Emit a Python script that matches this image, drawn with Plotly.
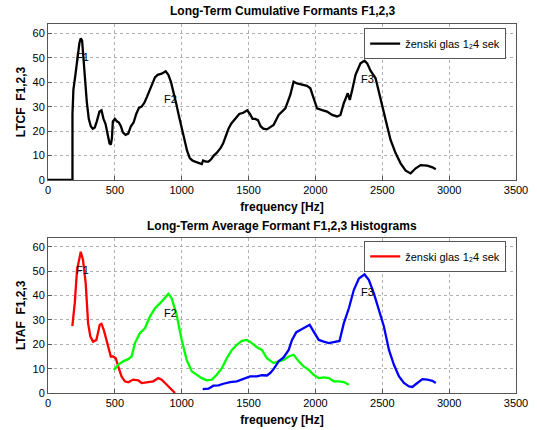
import plotly.graph_objects as go

# ---- data: top (cumulative) ----
ltcf_x = [0, 183, 183, 190, 205, 220, 235, 245, 255, 265, 275, 290, 305, 320, 335, 350, 365, 385, 400, 415, 430, 445, 460, 470, 478, 485, 500, 515, 530, 545, 560, 580, 600, 620, 640, 660, 680, 700, 720, 740, 760, 780, 800, 820, 850, 880, 900, 920, 940, 960, 980, 1000, 1020, 1040, 1060, 1080, 1100, 1130, 1150, 1160, 1180, 1200, 1220, 1240, 1260, 1290, 1310, 1330, 1350, 1370, 1390, 1410, 1430, 1460, 1490, 1510, 1530, 1550, 1570, 1590, 1610, 1637, 1687, 1725, 1775, 1812, 1837, 1862, 1900, 1937, 1962, 1987, 2012, 2050, 2087, 2125, 2162, 2187, 2212, 2242, 2257, 2275, 2300, 2337, 2367, 2387, 2412, 2450, 2487, 2525, 2562, 2600, 2637, 2675, 2712, 2750, 2787, 2837, 2875, 2900]
ltcf_y = [0, 0, 27, 37, 43, 50, 56, 58, 57, 50, 42, 32, 25, 22, 21, 21.5, 24, 28, 28.5, 25, 23, 19, 15, 14.5, 17, 24, 25, 24, 23.5, 22, 19.5, 18.5, 19, 22, 23.5, 27, 29.5, 30, 31.5, 34, 36.5, 39, 42, 43, 43.5, 44.5, 43, 40, 36, 31, 26, 21, 16, 12, 9, 8, 7.5, 7, 6.5, 8, 7.5, 7.5, 8.5, 10, 11, 13, 15, 18, 21, 23, 24.5, 26, 27, 27.5, 28.5, 27, 25, 25, 24.5, 22, 21, 20.7, 22.5, 26.6, 29.3, 34.8, 40.2, 39.5, 38.9, 38.5, 37.5, 33.4, 29.3, 28.6, 28, 26.6, 26, 26.6, 31.4, 35.5, 32.7, 36.8, 43, 47.7, 48.8, 47.7, 44.7, 41.6, 32.7, 24.6, 16.4, 10.9, 6.8, 3.8, 2.7, 4.8, 6.1, 5.9, 5.2, 4.4]

# ---- data: bottom (histograms) ----
f1_x = [182, 200, 217, 232, 245, 262, 282, 300, 317, 337, 362, 387, 400, 417, 437, 457, 470, 487, 507, 525, 550, 575, 600, 637, 675, 700, 737, 787, 825, 850, 875, 900, 925, 950]
f1_y = [27.5, 36.8, 50.5, 55, 58, 54.6, 45, 28.6, 23.2, 21.1, 21.8, 28, 28.4, 25.9, 21.8, 18.4, 15, 15, 14.3, 10.9, 6.8, 4.8, 4.4, 5.5, 5.2, 4.1, 4.4, 4.8, 6.1, 5.5, 4.1, 2.7, 1.6, 0]

f2_x = [492, 525, 562, 600, 625, 650, 687, 725, 762, 800, 837, 875, 900, 925, 962, 1000, 1037, 1075, 1112, 1150, 1187, 1225, 1262, 1300, 1337, 1375, 1412, 1450, 1487, 1525, 1562, 1600, 1637, 1687, 1725, 1762, 1800, 1837, 1875, 1912, 1950, 1987, 2025, 2062, 2100, 2137, 2175, 2212, 2250]
f2_y = [9.5, 11.6, 13, 13.9, 15, 20.5, 24.6, 26.6, 31.4, 34.8, 36.8, 38.9, 40.7, 38.9, 32, 21.8, 13.6, 8.9, 7.5, 6.1, 5.2, 5.5, 7.5, 10.2, 14.3, 17.7, 19.8, 21.4, 21.8, 20.5, 18.8, 17.7, 14.3, 12.3, 13, 13.6, 15, 15.7, 13, 10.9, 9.5, 7.5, 6.1, 6.4, 6.1, 4.8, 4.8, 4.5, 3.4]

f3_x = [1157, 1200, 1237, 1275, 1312, 1362, 1412, 1462, 1512, 1562, 1600, 1637, 1662, 1687, 1725, 1762, 1800, 1825, 1857, 1887, 1925, 1957, 1987, 2025, 2062, 2100, 2137, 2180, 2212, 2250, 2287, 2325, 2367, 2400, 2437, 2475, 2512, 2550, 2587, 2625, 2662, 2700, 2725, 2762, 2800, 2837, 2875, 2900]
f3_y = [1.6, 1.8, 3, 3.1, 3.8, 4.5, 4.8, 5.7, 6.8, 6.8, 7.3, 7.2, 8.2, 9.8, 13, 14.6, 17.7, 21.8, 25, 25.9, 27, 28, 25.2, 21.8, 21.1, 20.5, 20.9, 21.4, 28.6, 34.8, 42.3, 47, 48.7, 46.4, 40.9, 34.1, 27.3, 17.7, 11.6, 6.8, 4.1, 2.7, 2.5, 4.1, 5.7, 5.5, 5, 4.1]

labels = ["F1", "F2", "F3"]
label_x = [257, 917, 2390]
label_y = [50.5, 33, 41.3]

x_ticks = [0, 500, 1000, 1500, 2000, 2500, 3000, 3500]
y_ticks = [0, 10, 20, 30, 40, 50, 60]
legend_name = "ženski glas 1₂4 sek"

FONT = "Liberation Sans, Arial, sans-serif"

fig = go.Figure()
fig.add_trace(go.Scatter(x=ltcf_x, y=ltcf_y, mode="lines", line=dict(color="black", width=2.3),
                         name=legend_name, xaxis="x", yaxis="y", legend="legend"))
fig.add_trace(go.Scatter(x=f1_x, y=f1_y, mode="lines", line=dict(color="#ff0000", width=2.3),
                         name=legend_name, xaxis="x2", yaxis="y2", legend="legend2"))
fig.add_trace(go.Scatter(x=f2_x, y=f2_y, mode="lines", line=dict(color="#00ff00", width=2.3),
                         showlegend=False, xaxis="x2", yaxis="y2"))
fig.add_trace(go.Scatter(x=f3_x, y=f3_y, mode="lines", line=dict(color="#0000ff", width=2.3),
                         showlegend=False, xaxis="x2", yaxis="y2"))

axis_common = dict(
    showgrid=True, gridcolor="#b0b0b0", griddash="dot", gridwidth=1,
    showline=True, linecolor="#555555", linewidth=1, mirror=True,
    ticks="inside", ticklen=4, tickcolor="#555555", automargin=False,
    zeroline=False, tickfont=dict(family=FONT, size=11, color="black"),
)

xa = dict(axis_common, range=[0, 3500], tickvals=x_ticks,
          title=dict(text="<b>frequency [Hz]</b>", font=dict(family=FONT, size=12, color="black"), standoff=7))
ya = dict(axis_common, range=[0, 63.8], tickvals=y_ticks)

leg_common = dict(xanchor="right", yanchor="top", bgcolor="white",
                  bordercolor="#555555", borderwidth=1, font=dict(family=FONT, size=11, color="black"),
                  itemwidth=30, tracegroupgap=0)

fig.update_layout(
    width=537, height=430,
    margin=dict(l=48, r=21, t=24, b=37, autoexpand=False),
    paper_bgcolor="white", plot_bgcolor="white",
    showlegend=True,
    xaxis=dict(xa, domain=[0, 1], anchor="y"),
    yaxis=dict(ya, domain=[0.5772, 1], anchor="x",
               title=dict(text="<b>LTCF  F1,2,3</b>", font=dict(family=FONT, size=12, color="black"), standoff=4)),
    xaxis2=dict(xa, domain=[0, 1], anchor="y2"),
    yaxis2=dict(ya, domain=[0, 0.4209], anchor="x2",
                title=dict(text="<b>LTAF  F1,2,3</b>", font=dict(family=FONT, size=12, color="black"), standoff=4)),
    legend=dict(leg_common, x=0.979, y=0.989),
    legend2=dict(leg_common, x=0.979, y=0.412),
)

ann = []
for xr, yr in (("x", "y"), ("x2", "y2")):
    for t, lx, ly in zip(labels, label_x, label_y):
        ann.append(dict(x=lx, y=ly, xref=xr, yref=yr, text=t, showarrow=False,
                        font=dict(family=FONT, size=11, color="black")))
ann.append(dict(x=0.5, y=1, xref="paper", yref="paper", yanchor="middle", yshift=13,
                text="<b>Long-Term Cumulative Formants F1,2,3</b>",
                showarrow=False, font=dict(family=FONT, size=12, color="black")))
ann.append(dict(x=0.5, y=0.4209, xref="paper", yref="paper", yanchor="middle", yshift=12,
                text="<b>Long-Term Average Formant F1,2,3 Histograms</b>",
                showarrow=False, font=dict(family=FONT, size=12, color="black")))
fig.update_layout(annotations=ann)

fig.write_html("out.html")
